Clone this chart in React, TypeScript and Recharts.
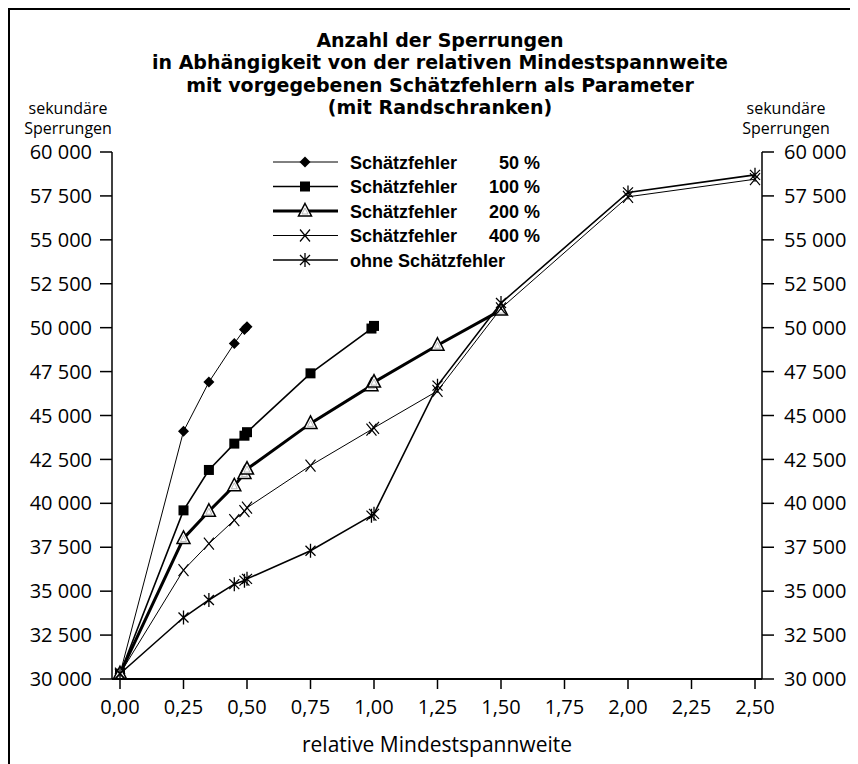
import React from 'react';
import { LineChart, Line, XAxis, YAxis, Legend } from 'recharts';

const xTicks = [0, 0.25, 0.5, 0.75, 1, 1.25, 1.5, 1.75, 2, 2.25, 2.5];
const yTicks = [30000, 32500, 35000, 37500, 40000, 42500, 45000, 47500, 50000, 52500, 55000, 57500, 60000];

const titleLines = [
  'Anzahl der Sperrungen',
  'in Abhängigkeit von der relativen Mindestspannweite',
  'mit vorgegebenen Schätzfehlern als Parameter',
  '(mit Randschranken)',
];
const yAxisTitle = ['sekundäre', 'Sperrungen'];
const xAxisTitle = 'relative Mindestspannweite';

const x50 = [0, 0.25, 0.35, 0.45, 0.49, 0.5];
const y50 = [30300, 44100, 46900, 49100, 49900, 50050];

const x100 = [0, 0.25, 0.35, 0.45, 0.49, 0.5, 0.75, 0.99, 1.0];
const y100 = [30300, 39600, 41900, 43400, 43850, 44050, 47400, 49950, 50100];

const x200 = [0, 0.25, 0.35, 0.45, 0.49, 0.5, 0.75, 0.99, 1.0, 1.25, 1.5];
const y200 = [30300, 38000, 39550, 41000, 41700, 41950, 44550, 46700, 46900, 49000, 51000];

const x400 = [0, 0.25, 0.35, 0.45, 0.49, 0.5, 0.75, 0.99, 1.0, 1.25, 1.5, 2.0, 2.5];
const y400 = [30300, 36200, 37700, 39050, 39550, 39750, 42150, 44200, 44300, 46400, 51100, 57450, 58450];

const xOhne = [0, 0.25, 0.35, 0.45, 0.49, 0.5, 0.75, 0.99, 1.0, 1.25, 1.5, 2.0, 2.5];
const yOhne = [30300, 33500, 34500, 35400, 35600, 35700, 37300, 39300, 39400, 46700, 51400, 57700, 58700];

const legendLabels = ['Schätzfehler', 'Schätzfehler', 'Schätzfehler', 'Schätzfehler', 'ohne Schätzfehler'];
const legendPercents = ['50 %', '100 %', '200 %', '400 %', ''];

const toPoints = (xs: number[], ys: number[]) => xs.map((x, i) => ({ x, y: ys[i] }));

type Shape = 'diamond' | 'square' | 'triangle' | 'x' | 'star';

const series: { name: string; data: { x: number; y: number }[]; shape: Shape; width: number }[] = [
  { name: 's50', data: toPoints(x50, y50), shape: 'diamond', width: 1 },
  { name: 's100', data: toPoints(x100, y100), shape: 'square', width: 1.6 },
  { name: 's200', data: toPoints(x200, y200), shape: 'triangle', width: 3 },
  { name: 's400', data: toPoints(x400, y400), shape: 'x', width: 1 },
  { name: 'ohne', data: toPoints(xOhne, yOhne), shape: 'star', width: 1.6 },
];

function Marker({ shape, cx, cy }: { shape: Shape; cx: number; cy: number }) {
  if (cx == null || cy == null) return null;
  switch (shape) {
    case 'diamond':
      return <polygon points={`${cx},${cy - 5.5} ${cx + 5.5},${cy} ${cx},${cy + 5.5} ${cx - 5.5},${cy}`} fill="#000" />;
    case 'square':
      return <rect x={cx - 5} y={cy - 5} width={10} height={10} fill="#000" />;
    case 'triangle':
      return (
        <g>
          <polygon points={`${cx},${cy - 7.5} ${cx + 6.5},${cy + 5} ${cx - 6.5},${cy + 5}`} fill="#fff" stroke="#000" strokeWidth={1.5} />
          <polygon points={`${cx},${cy - 3} ${cx + 3},${cy + 3} ${cx - 3},${cy + 3}`} fill="#fff" stroke="#aaa" strokeWidth={0.8} />
        </g>
      );
    case 'x':
      return <path d={`M${cx - 5},${cy - 6}L${cx + 5},${cy + 6}M${cx - 5},${cy + 6}L${cx + 5},${cy - 6}`} stroke="#000" strokeWidth={1.2} fill="none" />;
    case 'star':
      return (
        <path
          d={`M${cx - 5},${cy - 5}L${cx + 5},${cy + 5}M${cx - 5},${cy + 5}L${cx + 5},${cy - 5}M${cx},${cy - 7}L${cx},${cy + 7}`}
          stroke="#000"
          strokeWidth={1.3}
          fill="none"
        />
      );
  }
  return null;
}

const fmtY = (v: number) => {
  const s = String(Math.round(v));
  return s.slice(0, s.length - 3) + ' ' + s.slice(s.length - 3);
};
const fmtX = (v: number) => v.toFixed(2).replace('.', ',');

const tickFont = { fontFamily: '"Open Sans", sans-serif', fontSize: 20, fill: '#000' };
const legendFont = '"Liberation Sans", Arial, sans-serif';

const renderLegend = () => (
  <svg width={290} height={125} style={{ display: 'block' }}>
    {series.map((s, i) => {
      const y = 10 + i * 24.5;
      return (
        <g key={s.name}>
          <line x1={0} x2={65} y1={y} y2={y} stroke="#000" strokeWidth={s.width} />
          <Marker shape={s.shape} cx={32} cy={y} />
          <text x={77} y={y + 6.5} fontFamily={legendFont} fontWeight="bold" fontSize={18} fill="#000">
            {legendLabels[i]}
          </text>
          <text x={267} y={y + 6.5} textAnchor="end" fontFamily={legendFont} fontWeight="bold" fontSize={18} fill="#000">
            {legendPercents[i]}
          </text>
        </g>
      );
    })}
  </svg>
);

export default function App() {
  return (
    <div
      style={{
        position: 'relative',
        width: 860,
        height: 770,
        borderTop: '2px solid #000',
        borderLeft: '2px solid #000',
        fontFamily: '"Open Sans", sans-serif',
        color: '#000',
        background: '#fff',
      }}
    >
      <div
        style={{
          position: 'absolute',
          left: 0,
          top: 19,
          width: 860,
          textAlign: 'center',
          fontFamily: '"DejaVu Sans", sans-serif',
          fontWeight: 'bold',
          fontSize: 19,
          lineHeight: '22.3px',
        }}
      >
        {titleLines.map((t) => (
          <div key={t}>{t}</div>
        ))}
      </div>
      <div style={{ position: 'absolute', left: 6, top: 88, width: 104, textAlign: 'center', fontSize: 16, lineHeight: '20px' }}>
        {yAxisTitle.map((t) => (
          <div key={t}>{t}</div>
        ))}
      </div>
      <div style={{ position: 'absolute', left: 724, top: 88, width: 104, textAlign: 'center', fontSize: 16, lineHeight: '20px' }}>
        {yAxisTitle.map((t) => (
          <div key={t}>{t}</div>
        ))}
      </div>
      <div style={{ position: 'absolute', left: 102, top: 721, width: 650, textAlign: 'center', fontSize: 21, lineHeight: '26px' }}>
        {xAxisTitle}
      </div>
      <div style={{ position: 'absolute', left: 0, top: 0 }}>
        <LineChart width={850} height={756} margin={{ top: 142, right: 8, bottom: 47, left: 12 }}>
          <XAxis
            dataKey="x"
            type="number"
            domain={[0, 2.5]}
            ticks={xTicks}
            tickFormatter={fmtX}
            padding={{ left: 8, right: 7 }}
            height={40}
            tickSize={10}
            tickMargin={11}
            tick={tickFont}
            axisLine={{ stroke: '#000', strokeWidth: 2 }}
            tickLine={{ stroke: '#000', strokeWidth: 1.5 }}
            allowDuplicatedCategory={false}
          />
          <YAxis
            yAxisId="left"
            orientation="left"
            type="number"
            domain={[30000, 60000]}
            ticks={yTicks}
            tickFormatter={fmtY}
            width={90}
            tickSize={12}
            tickMargin={8}
            tick={tickFont}
            axisLine={{ stroke: '#000', strokeWidth: 1.5 }}
            tickLine={{ stroke: '#000', strokeWidth: 1.5 }}
            allowDataOverflow
          />
          <YAxis
            yAxisId="right"
            orientation="right"
            type="number"
            domain={[30000, 60000]}
            ticks={yTicks}
            tickFormatter={fmtY}
            width={90}
            tickSize={12}
            tickMargin={10}
            tick={{ ...tickFont, textAnchor: 'start' }}
            axisLine={{ stroke: '#000', strokeWidth: 1.5 }}
            tickLine={{ stroke: '#000', strokeWidth: 1.5 }}
            allowDataOverflow
          />
          <Legend
            layout="horizontal"
            verticalAlign="middle"
            align="center"
            content={renderLegend}
            wrapperStyle={{ position: 'absolute', left: 263, top: 142, width: 290, height: 125 }}
          />
          {series.map((s) => (
            <Line
              key={s.name}
              yAxisId="left"
              data={s.data}
              dataKey="y"
              type="linear"
              stroke="#000"
              strokeWidth={s.width}
              isAnimationActive={false}
              legendType="none"
              dot={(p: any) => <Marker key={`${s.name}-${p.index}`} shape={s.shape} cx={p.cx} cy={p.cy} />}
              activeDot={false}
            />
          ))}
        </LineChart>
      </div>
    </div>
  );
}
